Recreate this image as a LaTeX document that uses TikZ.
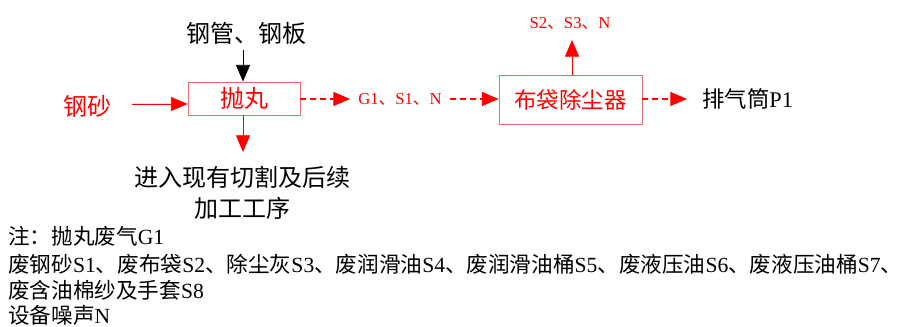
\documentclass[tikz,border=0pt]{standalone}
\usepackage{fontspec}
\setmainfont{Liberation Serif}
\newfontfamily\cjk{Noto Sans CJK SC}
\usetikzlibrary{arrows.meta}
\newcommand\zh[1]{{\cjk #1}}
\definecolor{rd}{RGB}{255,0,0}
\definecolor{boxrd}{RGB}{230,110,110}
\tikzset{
  big/.style={font=\fontsize{18}{21}\selectfont, inner sep=0pt},
  mid/.style={font=\fontsize{16.8}{20}\selectfont, inner sep=0pt},
  small/.style={font=\fontsize{12.5}{15}\selectfont, inner sep=0pt, text=rd},
  note/.style={font=\fontsize{16.2}{19}\selectfont, inner sep=0pt, anchor=west},
  procbox/.style={draw=boxrd, line width=0.6pt, text=rd, inner sep=0pt},
  tip/.style={-{Triangle[length=12.5pt,width=10.5pt]}},
  redarr/.style={tip, draw=rd, fill=rd, line width=0.6pt},
  redarrdash/.style={tip, draw=rd, fill=rd, line width=0.8pt, dash pattern=on 4.5pt off 3pt},
  blackarr/.style={tip, draw=black, fill=black, line width=0.6pt},
}
\begin{document}
\begin{tikzpicture}[x=0.75pt,y=-0.75pt]
\useasboundingbox (0,0) rectangle (911,327);
% boxes
\node[procbox, big, minimum width=84pt, minimum height=24.75pt] (pw) at (244,98.5) {\zh{抛丸}};
\node[procbox, mid, minimum width=107.25pt, minimum height=36.75pt] (bd) at (570.5,99.5) {\zh{布袋除尘器}};
% texts
\node[big] (gg) at (246,33) {\zh{钢管、钢板}};
\node[big, text=rd] (gs) at (87,106) {\zh{钢砂}};
\node[big, align=center] (next) at (242,193) {\zh{进入现有切割及后续}\\[2pt]\zh{加工工序}};
\node[small] (g1) at (400,99) {G1\zh{、}S1\zh{、}N};
\node[small] (s2) at (570,23) {S2\zh{、}S3\zh{、}N};
\node[mid, anchor=west] (p1) at (702,99) {\zh{排气筒}P1};
% coordinates
\coordinate (a1) at (132,104);
\coordinate (a2) at (243,50);
\coordinate (a3) at (243,152);
\coordinate (a4) at (350,99);
\coordinate (a5) at (450,99);
\coordinate (a6) at (572,40);
\coordinate (a7) at (687,99);
% connectors
\draw[redarr] (a1) -- (a1 -| pw.west);
\draw[blackarr] (a2) -- (a2 |- pw.north);
\draw[redarr] (a3 |- pw.south) -- (a3);
\draw[redarrdash] (a4 -| pw.east) -- (a4);
\draw[redarrdash] (a5) -- (a5 -| bd.west);
\draw[redarr] (a6 |- bd.north) -- (a6);
\draw[redarrdash] (a7 -| bd.east) -- (a7);
% notes
\node[note] (n1) at (8,236) {\zh{注：抛丸废气}G1};
\node[note] (n2) at (8,264) {\zh{废钢砂}S1\zh{、废布袋}S2\zh{、除尘灰}S3\zh{、废润滑油}S4\zh{、废润滑油桶}S5\zh{、废液压油}S6\zh{、废液压油桶}S7\zh{、}};
\node[note] (n3) at (8,290.5) {\zh{废含油棉纱及手套}S8};
\node[note] (n4) at (8,315.5) {\zh{设备噪声}N};
\end{tikzpicture}
\end{document}
